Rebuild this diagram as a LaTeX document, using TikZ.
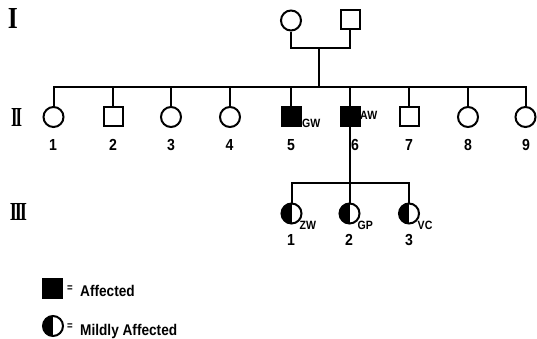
\documentclass[tikz,border=0pt]{standalone}
\usepackage{fontspec}
\newfontfamily\nf[FakeStretch=0.88]{Liberation Sans}
\newfontfamily\rf{Liberation Serif}
\begin{document}
\begin{tikzpicture}[x=1pt,y=-1pt,
  lw/.style={line width=2pt},
  fem/.style={circle,draw,lw,minimum size=20pt,inner sep=0pt},
  mal/.style={rectangle,draw,lw,minimum size=19pt,inner sep=0pt},
  aff/.style={mal,fill=black},
  mild/.style={fem,path picture={\fill[black] (path picture bounding box.south west) rectangle (path picture bounding box.north);}},
  num/.style={anchor=base,inner sep=0pt,font=\nf\bfseries\fontsize{16}{16}\selectfont},
  lab/.style={anchor=base west,inner sep=0pt,font=\nf\bfseries\fontsize{12}{12}\selectfont},
  leg/.style={anchor=base west,inner sep=0pt,font=\nf\bfseries\fontsize{15.5}{15.5}\selectfont},
  eqs/.style={inner sep=0pt,font=\nf\bfseries\fontsize{11}{11}\selectfont},
  gen/.style={inner sep=0pt},
  link/.style={lw,line join=miter}
]
\useasboundingbox (0,0) rectangle (537,338);
% generation labels
\node[gen] (gI) at (13,18) {\resizebox{10pt}{20pt}{\rf\bfseries I}};
\node[gen] (gII) at (16.5,117) {\resizebox{11pt}{18pt}{\rf\bfseries I\kern-0.12em I}};
\node[gen] (gIII) at (18.5,211.5) {\resizebox{17pt}{17pt}{\rf\bfseries I\kern-0.12em I\kern-0.12em I}};
% generation I
\node[fem] (i1) at (291,20.5) {};
\node[mal] (i2) at (350,19.5) {};
\coordinate (mI) at (319,48);
\coordinate (sII) at (319,87);
\draw[link] (i1.south) |- (mI) -| (i2.south);
\draw[link] (mI) -- (sII);
% generation II
\node[fem] (ii1) at (53.5,117) {};
\node[mal] (ii2) at (113,116.5) {};
\node[fem] (ii3) at (171,117) {};
\node[fem] (ii4) at (230,117) {};
\node[aff] (ii5) at (291,116.5) {};
\node[aff] (ii6) at (350,116.5) {};
\node[mal] (ii7) at (409,116.5) {};
\node[fem] (ii8) at (468,117) {};
\node[fem] (ii9) at (525.5,117) {};
\draw[link,line cap=rect] (ii1.north |- sII) -- (ii9.north |- sII);
\foreach \k in {1,...,9} {\draw[link] (ii\k.north |- sII) -- (ii\k.north);}
\node[num] (n1) at (53,150) {1};
\node[num] (n2) at (113,150) {2};
\node[num] (n3) at (171,150) {3};
\node[num] (n4) at (229.5,150) {4};
\node[num] (n5) at (291,150) {5};
\node[num] (n6) at (355,150) {6};
\node[num] (n7) at (409,150) {7};
\node[num] (n8) at (468,150) {8};
\node[num] (n9) at (526,150) {9};
\node[lab] (gw) at (302,127.5) {GW};
\node[lab] (aw) at (360,119) {AW};
% generation III
\coordinate (sIII) at (350,183);
\draw[link] (ii6.south) -- (ii6.south |- sIII);
\node[mild] (iii1) at (291.5,213.5) {};
\node[mild] (iii2) at (349.5,213.5) {};
\node[mild] (iii3) at (409,213.5) {};
\draw[link,line cap=rect] (iii1.north |- sIII) -- (iii3.north |- sIII);
\foreach \k in {1,2,3} {\draw[link] (iii\k.north |- sIII) -- (iii\k.north);}
\node[lab] (zw) at (299.5,229.5) {ZW};
\node[lab] (gp) at (357.5,229.5) {GP};
\node[lab] (vc) at (417.5,229.5) {VC};
\node[num] (m1) at (291,245) {1};
\node[num] (m2) at (349,245) {2};
\node[num] (m3) at (409,245) {3};
% legend
\node[aff] (la) at (52.5,288) {};
\node[eqs] (eqa) at (70,289) {=};
\node[leg] (ta) at (80,296) {Affected};
\node[mild] (lm) at (53,326) {};
\node[eqs] (eqm) at (70,327) {=};
\node[leg] (tm) at (80,335) {Mildly Affected};
\end{tikzpicture}
\end{document}
